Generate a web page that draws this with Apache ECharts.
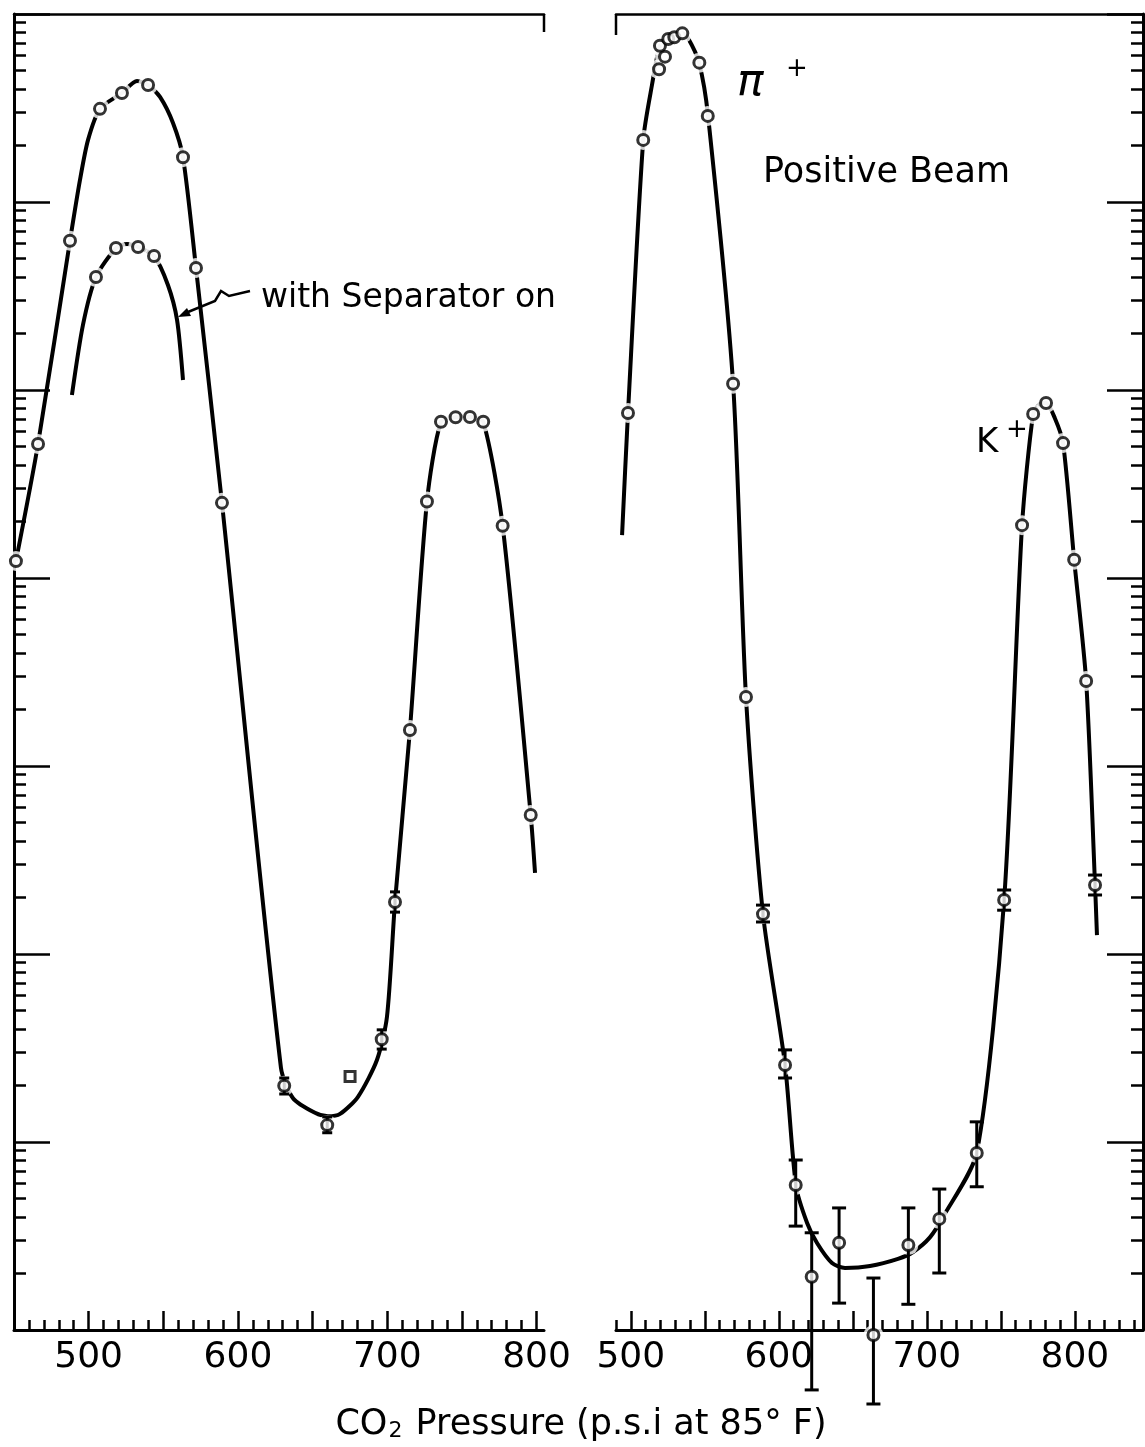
<!DOCTYPE html>
<html>
<head>
<meta charset="utf-8">
<script src="https://cdn.jsdelivr.net/npm/echarts@6/dist/echarts.min.js"></script>
<style>
  html, body { margin: 0; padding: 0; background: #fff; }
  #chart { width: 1145px; height: 1447px; }
</style>
</head>
<body>
<div id="chart"></div>
<script>
// ---------------- data ----------------
// x: CO2 pressure (p.s.i at 85 F), y: counts (log scale, 1 .. 1e7)
const pressureTickLabels = [500, 600, 700, 800];

// left panel: measured points
const leftPressure = [451.3, 466.1, 487.5, 507.6, 522.3, 539.8, 563.2, 571.9, 589.3, 631.0, 659.8,
                      696.3, 705.2, 715.2, 726.6, 736.0, 745.8, 755.4, 764.3, 777.3, 796.1];
const leftCounts   = [12300, 51600, 622000, 3130000, 3800000, 4190000, 1730000, 446000, 25100, 19.9, 12.3,
                      35.2, 189, 1555, 25500, 67800, 71600, 71800, 67800, 18970, 549];
// left panel: error bars
const leftErrPressure = [631.0, 659.8, 696.3, 705.2];
const leftErrLow      = [18.0, 11.2, 31.2, 167];
const leftErrHigh     = [21.9, 13.6, 39.5, 214];
// left panel: the single square point
const leftOddPressure = [675.1];
const leftOddCounts   = [22.3];
// left panel: drawn curve
const leftCurvePressure = [451.3, 466.1, 487.5, 494.2, 499.6, 507.6, 522.3, 532.4, 539.8, 547.8, 556.5,
                           563.2, 571.9, 589.3, 628.8, 636.9, 651.6, 660.3, 668.4, 680.4, 693.1, 699.8,
                           705.2, 715.2, 726.6, 736.0, 745.8, 755.4, 764.3, 777.3, 796.1, 799.0];
const leftCurveCounts   = [12300, 51600, 622000, 1310000, 2140000, 3130000, 3800000, 4400000, 4190000, 3620000, 2630000,
                           1730000, 446000, 25100, 24.8, 17.1, 14.3, 13.7, 14.1, 17.4, 27.3, 46.2,
                           189, 1555, 25500, 67800, 71600, 71800, 67800, 18970, 549, 270];
// left panel: with separator on
const sepPressure = [504.9, 518.3, 533.1, 543.8];
const sepCounts   = [399000, 569000, 576000, 516000];
const sepCurvePressure = [488.8, 496.2, 504.9, 518.3, 525.7, 533.1, 543.8, 553.1, 559.2, 563.2];
const sepCurveCounts   = [94000, 222000, 399000, 569000, 598000, 576000, 516000, 362000, 236000, 113000];

// right panel (positive beam): measured points
const rightPressure = [498.1, 508.4, 519.1, 523.1, 519.7, 525.3, 529.4, 534.8, 546.3, 552.0,
                       569.1, 577.8, 589.3, 604.2, 611.4, 622.2, 640.7, 663.9, 687.5, 708.4,
                       733.7, 752.2, 764.3, 771.8, 780.5, 792.0, 799.5, 807.6, 813.6];
const rightCounts   = [75500, 2140000, 5080000, 5930000, 6780000, 7360000, 7520000, 7890000, 5510000, 2870000,
                       108000, 2330, 163, 25.7, 5.91, 1.92, 2.91, 0.94, 2.83, 3.90,
                       8.74, 194, 19100, 74500, 85300, 52200, 12500, 2830, 233];
// right panel: error bars
const rightErrPressure = [589.3, 604.2, 611.4, 622.2, 640.7, 663.9, 687.5, 708.4, 733.7, 752.2, 813.6];
const rightErrLow      = [148, 21.9, 3.57, 0.48, 1.39, 0.404, 1.37, 2.01, 5.78, 171, 206];
const rightErrHigh     = [182, 30.9, 8.02, 3.29, 4.46, 1.89, 4.46, 5.62, 12.8, 219, 263];
// right panel: drawn curve
const rightCurvePressure = [494.1, 498.1, 508.4, 514.3, 519.7, 525.1, 529.2, 534.6, 538.6, 546.1,
                            552.2, 569.1, 577.8, 589.3, 604.2, 611.6, 619.1, 625.8, 635.9, 644.7,
                            661.6, 680.5, 690.7, 702.2, 710.9, 733.7, 752.2, 764.3, 771.8, 776.2,
                            780.5, 786.4, 792.0, 799.5, 807.6, 813.6, 814.9];
const rightCurveCounts   = [16900, 75500, 2140000, 4190000, 6780000, 7360000, 7550000, 7930000, 7450000, 5510000,
                            2870000, 108000, 2330, 163, 25.7, 5.84, 3.71, 2.90, 2.27, 2.14,
                            2.19, 2.39, 2.60, 3.12, 3.99, 8.74, 194, 19100, 74500, 84300,
                            85300, 71000, 52200, 12500, 2830, 233, 126];

const xTitle = 'Pressure (p.s.i at 85° F)';
const annotations = { separator: 'with Separator on', beam: 'Positive Beam', pion: 'π', kaon: 'K', sign: '+' };

// ---------------- helpers ----------------
const FONT = 'DejaVu Sans';
const INK = '#000';
const zip = (xs, ys) => xs.map((x, i) => [x, ys[i]]);
const zip3 = (xs, a, b) => xs.map((x, i) => [x, a[i], b[i]]);

function minorX(lo, hi) { const out = []; for (let v = lo; v <= hi; v += 10) if (v % 50 !== 0) out.push(v); return out; }
function majorX(lo, hi) { const out = []; for (let v = lo; v <= hi; v += 50) out.push(v); return out; }
// log-decade sub ticks (2..9) expressed in decades
const decadeSub = [];
for (let k = 0; k < 7; k++) for (let m = 2; m <= 9; m++) decadeSub.push(k + Math.log10(m));

function xAxesFor(grid, min, max, minorList) {
  return [
    { // baseline with short ticks
      type: 'value', gridIndex: grid, min, max, position: 'bottom',
      axisLine: { show: true, lineStyle: { color: INK, width: 3 } },
      axisTick: { show: true, inside: true, length: 10, lineStyle: { color: INK, width: 2.5 }, customValues: minorList },
      axisLabel: { show: false }, splitLine: { show: false }
    },
    { // longer ticks every 50 and the labels
      type: 'value', gridIndex: grid, min, max, position: 'bottom',
      axisLine: { show: false },
      axisTick: { show: true, inside: true, length: 19, lineStyle: { color: INK, width: 2.5 }, customValues: majorX(500, 800) },
      axisLabel: { show: true, customValues: pressureTickLabels, color: INK, fontFamily: FONT, fontSize: 36, margin: 10 },
      splitLine: { show: false }
    },
    { // top frame
      type: 'value', gridIndex: grid, min, max, position: 'top',
      axisLine: { show: true, lineStyle: { color: INK, width: 2.5 } },
      axisTick: { show: false }, axisLabel: { show: false }, splitLine: { show: false }
    }
  ];
}
function yAxesFor(grid, pos) {
  return [
    { type: 'log', logBase: 10, gridIndex: grid, min: 1, max: 1e7, position: pos, show: false },
    { // decade ticks
      type: 'value', gridIndex: grid, min: 0, max: 7, interval: 1, position: pos,
      axisLine: { show: true, lineStyle: { color: INK, width: 3 } },
      axisTick: { show: true, inside: true, length: 36, lineStyle: { color: INK, width: 2.5 } },
      axisLabel: { show: false }, splitLine: { show: false }
    },
    { // sub-decade ticks
      type: 'value', gridIndex: grid, min: 0, max: 7, position: pos,
      axisLine: { show: false },
      axisTick: { show: true, inside: true, length: 12, lineStyle: { color: INK, width: 2.5 }, customValues: decadeSub },
      axisLabel: { show: false }, splitLine: { show: false }
    }
  ];
}

function curve(xi, yi, data, z) {
  return { type: 'line', xAxisIndex: xi, yAxisIndex: yi, data, smooth: 0.25, showSymbol: false,
           lineStyle: { color: INK, width: 4 }, z, silent: true };
}
function halo(xi, yi, data) {
  return { type: 'scatter', xAxisIndex: xi, yAxisIndex: yi, data, symbol: 'circle', symbolSize: 20,
           itemStyle: { color: '#fff' }, z: 3, clip: false, silent: true };
}
function dots(xi, yi, data, symbol, size) {
  return { type: 'scatter', xAxisIndex: xi, yAxisIndex: yi, data, symbol: symbol || 'circle', symbolSize: size || 11,
           itemStyle: { color: '#fff', borderColor: INK, borderWidth: 3 }, z: 6, clip: false, silent: true };
}
function errBars(xi, yi, data, cap) {
  return {
    type: 'custom', xAxisIndex: xi, yAxisIndex: yi, data, z: 5, clip: false, silent: true,
    encode: { x: 0, y: [1, 2] },
    renderItem(params, api) {
      const x = api.value(0);
      const lo = api.coord([x, api.value(1)]);
      const hi = api.coord([x, api.value(2)]);
      const st = { stroke: INK, lineWidth: 3 };
      return { type: 'group', children: [
        { type: 'line', shape: { x1: lo[0], y1: lo[1], x2: hi[0], y2: hi[1] }, style: st },
        { type: 'line', shape: { x1: lo[0] - cap, y1: lo[1], x2: lo[0] + cap, y2: lo[1] }, style: st },
        { type: 'line', shape: { x1: hi[0] - cap, y1: hi[1], x2: hi[0] + cap, y2: hi[1] }, style: st }
      ] };
    }
  };
}

const textStyle = (t, size, extra) => Object.assign({ text: t, fill: INK, fontFamily: FONT, fontSize: size }, extra || {});

const chart = echarts.init(document.getElementById('chart'), null, { renderer: 'canvas' });
chart.setOption({
  animation: false,
  backgroundColor: '#fff',
  grid: [
    { left: 14, top: 14, width: 530, height: 1316, containLabel: false, outerBoundsMode: 'none' },
    { left: 616, top: 14, width: 527, height: 1316, containLabel: false, outerBoundsMode: 'none' }
  ],
  xAxis: [].concat(xAxesFor(0, 450, 805, minorX(460, 800)), xAxesFor(1, 490, 846, minorX(490, 840))),
  yAxis: [].concat(yAxesFor(0, 'left'), yAxesFor(1, 'right')),
  series: [
    // left panel
    curve(0, 0, zip(leftCurvePressure, leftCurveCounts), 2),
    curve(0, 0, zip(sepCurvePressure, sepCurveCounts), 2),
    halo(0, 0, zip(leftPressure, leftCounts).concat(zip(sepPressure, sepCounts), zip(leftOddPressure, leftOddCounts))),
    errBars(0, 0, zip3(leftErrPressure, leftErrLow, leftErrHigh), 5),
    dots(0, 0, zip(leftPressure, leftCounts)),
    dots(0, 0, zip(sepPressure, sepCounts)),
    dots(0, 0, zip(leftOddPressure, leftOddCounts), 'rect', 10),
    // right panel
    curve(3, 3, zip(rightCurvePressure, rightCurveCounts), 2),
    halo(3, 3, zip(rightPressure, rightCounts)),
    errBars(3, 3, zip3(rightErrPressure, rightErrLow, rightErrHigh), 7),
    dots(3, 3, zip(rightPressure, rightCounts))
  ],
  graphic: [
    // frame corner ticks
    { type: 'line', shape: { x1: 544, y1: 14, x2: 544, y2: 32 }, style: { stroke: INK, lineWidth: 2.5 }, z: 10 },
    { type: 'line', shape: { x1: 616, y1: 14, x2: 616, y2: 35 }, style: { stroke: INK, lineWidth: 2.5 }, z: 10 },
    // arrow to the separator curve
    { type: 'polyline', shape: { points: [[250, 291], [229, 296], [221, 291], [215, 301], [188, 312]] },
      style: { stroke: INK, lineWidth: 2.5, fill: null }, z: 10 },
    { type: 'polygon', shape: { points: [[178, 317], [191, 316], [187, 308]] }, style: { fill: INK }, z: 10 },
    // labels
    { type: 'text', x: 261, y: 298, z: 10, style: textStyle(annotations.separator, 33, { verticalAlign: 'middle' }) },
    { type: 'text', x: 763, y: 173, z: 10, style: textStyle(annotations.beam, 35, { verticalAlign: 'middle' }) },
    { type: 'text', x: 737, y: 84, z: 10, style: textStyle(annotations.pion, 44, { verticalAlign: 'middle', fontStyle: 'italic' }) },
    { type: 'text', x: 786, y: 69, z: 10, style: textStyle(annotations.sign, 26, { verticalAlign: 'middle' }) },
    { type: 'text', x: 976, y: 443, z: 10, style: textStyle(annotations.kaon, 34, { verticalAlign: 'middle' }) },
    { type: 'text', x: 1006, y: 430, z: 10, style: textStyle(annotations.sign, 26, { verticalAlign: 'middle' }) },
    { type: 'text', x: 581, y: 1422, z: 10, style: {
        text: '{a|CO}{s|2}{a| ' + xTitle + '}', align: 'center', verticalAlign: 'middle',
        rich: {
          a: { fontFamily: FONT, fontSize: 35, fill: INK, lineHeight: 40, verticalAlign: 'bottom' },
          s: { fontFamily: FONT, fontSize: 22, fill: INK, lineHeight: 22, verticalAlign: 'bottom', padding: [0, 2, 0, 1] }
        } } }
  ]
});
</script>
</body>
</html>
